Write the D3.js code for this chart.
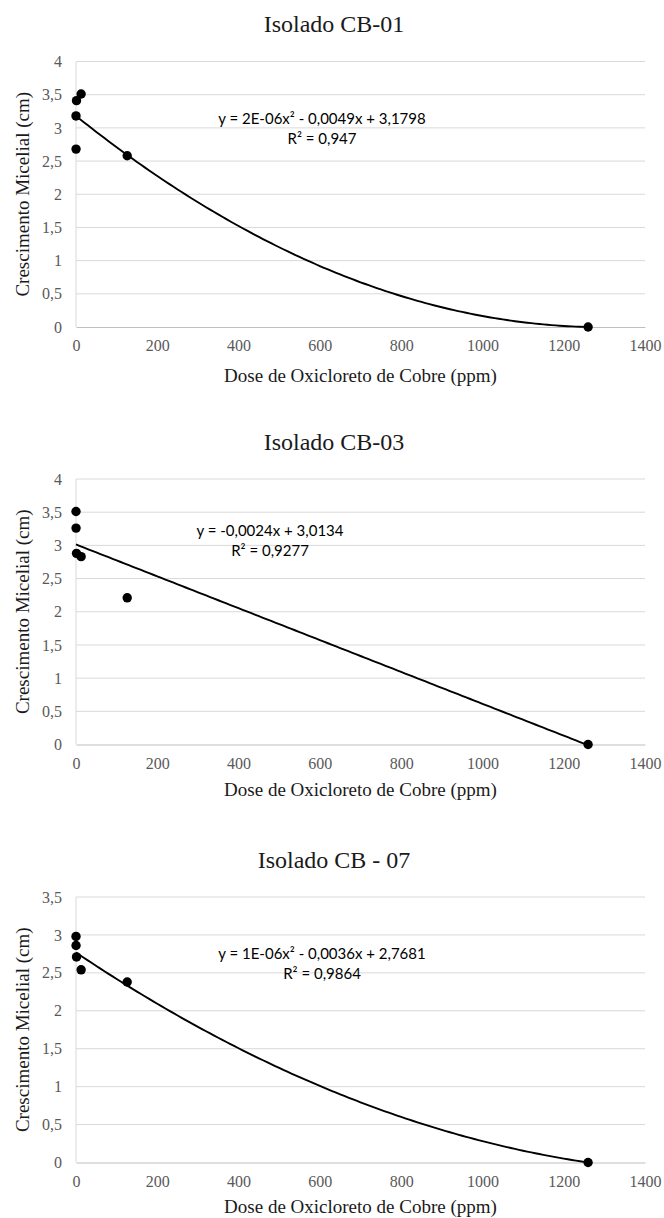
<!DOCTYPE html>
<html><head><meta charset="utf-8">
<script src="https://cdn.jsdelivr.net/npm/d3@7"></script>
<style>body{margin:0;background:#fff}svg{display:block}</style>
</head><body><svg id="c" width="664" height="1218"></svg>
<script>
// ---- data ----
const doses = [0, 0.126, 1.26, 12.6, 126, 1260];
const titles = ["Isolado CB-01", "Isolado CB-03", "Isolado CB - 07"];
const growthCB01 = [3.18, 2.68, 3.41, 3.51, 2.58, 0];
const growthCB03 = [3.51, 3.26, 2.88, 2.83, 2.21, 0];
const growthCB07 = [2.98, 2.86, 2.71, 2.54, 2.38, 0];
// trendline coefficients [a, b, c] for y = a x^2 + b x + c
const trendCB01 = [1.886e-6, -0.0049, 3.1798];
const trendCB03 = [0, -0.0024, 3.0134];
const trendCB07 = [1.1136e-6, -0.0036, 2.7681];
const equationCB01 = ["y = 2E-06x² - 0,0049x + 3,1798", "R² = 0,947"];
const equationCB03 = ["y = -0,0024x + 3,0134", "R² = 0,9277"];
const equationCB07 = ["y = 1E-06x² - 0,0036x + 2,7681", "R² = 0,9864"];
const yMaxes = [4, 4, 3.5];
const yStep = 0.5;
const xTicks = [0, 200, 400, 600, 800, 1000, 1200, 1400];
const xLabel = "Dose de Oxicloreto de Cobre (ppm)";
const yLabel = "Crescimento Micelial (cm)";

// ---- layout ----
const L = { left: 76, right: 645, plotH: 265.5, bottoms: [327, 744.5, 1162.5],
  xTitleOff: [55, 51, 50],
  eqX: [322, 270, 322], eqY: [124, 536, 959], eqGap: 20 };
const SERIF = "'Liberation Serif', 'Times New Roman', Times, serif";

const svg = d3.select("#c");
svg.append("rect").attr("width", 664).attr("height", 1218).attr("fill", "#fff");

const series = [growthCB01, growthCB03, growthCB07];
const trends = [trendCB01, trendCB03, trendCB07];
const eqs = [equationCB01, equationCB03, equationCB07];
const fmtY = d => String(d).replace(".", ",");

series.forEach((vals, i) => {
  const bottom = L.bottoms[i], top = bottom - L.plotH;
  const x = d3.scaleLinear().domain([0, 1400]).range([L.left, L.right]);
  const y = d3.scaleLinear().domain([0, yMaxes[i]]).range([bottom, top]);
  const g = svg.append("g");
  const yTicks = d3.range(0, yMaxes[i] + 1e-9, yStep);

  // gridlines
  g.append("g").selectAll("line").data(yTicks.filter(t => t > 0)).join("line")
    .attr("x1", L.left).attr("x2", L.right)
    .attr("y1", d => y(d)).attr("y2", d => y(d))
    .attr("stroke", "#d9d9d9").attr("stroke-width", 1);
  // left axis line
  g.append("line").attr("x1", L.left).attr("x2", L.left).attr("y1", top).attr("y2", bottom)
    .attr("stroke", "#d9d9d9");
  // bottom axis
  const xa = g.append("g").attr("transform", `translate(0,${bottom})`)
    .call(d3.axisBottom(x).tickValues(xTicks).tickSize(0).tickPadding(13).tickFormat(d3.format("d")))
    .attr("font-family", SERIF).attr("font-size", 16);
  xa.select(".domain").attr("stroke", "#bfbfbf");
  xa.selectAll("text").attr("fill", "#595959").attr("font-family", SERIF).attr("font-size", 16);
  const ya = g.append("g").attr("transform", `translate(${L.left},0)`)
    .call(d3.axisLeft(y).tickValues(yTicks).tickSize(0).tickPadding(14).tickFormat(fmtY))
    .attr("font-family", SERIF).attr("font-size", 16);
  ya.select(".domain").remove();
  ya.selectAll("text").attr("fill", "#595959").attr("font-family", SERIF).attr("font-size", 16);

  // title
  g.append("text").attr("x", 334).attr("y", bottom - 295).attr("text-anchor", "middle")
    .attr("font-family", SERIF).attr("font-size", 24).attr("fill", "#1a1a1a")
    .text(titles[i]);
  // axis titles
  g.append("text").attr("x", (L.left + L.right) / 2).attr("y", bottom + L.xTitleOff[i]).attr("text-anchor", "middle")
    .attr("font-family", SERIF).attr("font-size", 19).attr("fill", "#1a1a1a")
    .text(xLabel);
  g.append("text").attr("transform", `translate(29,${(top + bottom) / 2}) rotate(-90)`)
    .attr("text-anchor", "middle")
    .attr("font-family", SERIF).attr("font-size", 19).attr("fill", "#1a1a1a")
    .text(yLabel);

  // trendline
  const c = trends[i];
  const xs = d3.range(0, 1260.001, 10);
  const line = d3.line().x(d => x(d)).y(d => y(c[0] * d * d + c[1] * d + c[2]));
  g.append("path").datum(xs).attr("d", line).attr("fill", "none")
    .attr("stroke", "#000").attr("stroke-width", 1.9);

  // points
  g.append("g").selectAll("circle").data(doses.map((d, k) => [d, vals[k]])).join("circle")
    .attr("cx", d => x(d[0])).attr("cy", d => y(d[1])).attr("r", 4.7).attr("fill", "#000");

  // equation
  eqs[i].forEach((t, k) => {
    g.append("text").attr("x", L.eqX[i]).attr("y", L.eqY[i] + k * L.eqGap).attr("text-anchor", "middle")
      .attr("font-family", "Lato, 'Open Sans', sans-serif").attr("font-size", 15).attr("fill", "#000").text(t);
  });
});
</script></body></html>
